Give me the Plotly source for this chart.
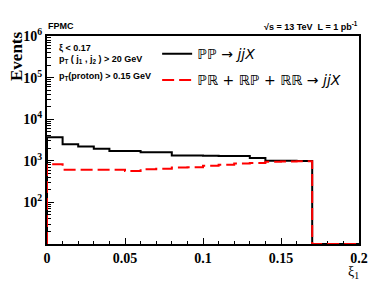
import plotly.graph_objects as go

# bin edges of xi_1 (width 0.01)
bin_edges = [0.00, 0.01, 0.02, 0.03, 0.04, 0.05, 0.06, 0.07, 0.08, 0.09, 0.10,
             0.11, 0.12, 0.13, 0.14, 0.15, 0.16, 0.17, 0.18, 0.19, 0.20]

# events per bin
pp_events = [3700, 2500, 2200, 1950, 1730, 1730, 1600, 1600, 1340, 1340,
             1320, 1310, 1300, 1170, 1000, 1000, 990, 0, 0, 0]
pr_events = [830, 610, 610, 610, 610, 570, 630, 640, 690, 700,
             760, 800, 860, 890, 950, 960, 970, 0, 0, 0]

pp_name = "ℙℙ → <i>jjX</i>"
pr_name = "ℙℝ + ℝℙ + ℝℝ → <i>jjX</i>"

x_tickvals = [0, 0.05, 0.1, 0.15, 0.2]
x_ticktext = ["0", "0.05", "0.1", "0.15", "0.2"]
y_tickvals = [1e2, 1e3, 1e4, 1e5, 1e6]
y_ticktext = ["10<sup>2</sup>", "10<sup>3</sup>", "10<sup>4</sup>", "10<sup>5</sup>", "10<sup>6</sup>"]

YMIN, YMAX = 10, 1e6
W, H = 390, 281
ML, MR, MT, MB = 39, 39, 28, 45


def step_xy(edges, vals):
    xs = [edges[0]] + list(edges[:-1]) + [edges[-1]]
    ys = [YMIN] + [v if v > 0 else YMIN for v in vals] + [vals[-1] if vals[-1] > 0 else YMIN]
    return xs, ys


fig = go.Figure()
x1, y1 = step_xy(bin_edges, pp_events)
fig.add_trace(go.Scatter(x=x1, y=y1, mode="lines", line_shape="hv", name=pp_name,
                         line=dict(color="black", width=2), legendgroup="a"))
x2, y2 = step_xy(bin_edges, pr_events)
fig.add_trace(go.Scatter(x=x2, y=y2, mode="lines", line_shape="hv", name=pr_name,
                         line=dict(color="#ff0000", width=2, dash="12px,5px"), legendgroup="b"))

serif = "Liberation Serif, Times New Roman, serif"
sans = "Liberation Sans, Arial, sans-serif"

fig.update_layout(
    width=W, height=H,
    margin=dict(l=ML, r=MR, t=MT, b=MB, pad=0, autoexpand=False),
    paper_bgcolor="white", plot_bgcolor="white",
    showlegend=True,
    legend=dict(x=0.353, y=0.99, xanchor="left", yanchor="top",
                font=dict(family="DejaVu Sans", size=14, color="black"),
                bgcolor="rgba(0,0,0,0)", tracegroupgap=5, itemwidth=30),
    xaxis=dict(range=[0, 0.2], tickvals=x_tickvals, ticktext=x_ticktext,
               ticks="inside", ticklen=6, tickwidth=1, tickcolor="black",
               minor=dict(dtick=0.01, tick0=0, ticks="inside", ticklen=3, tickcolor="black"),
               showline=True, linecolor="black", linewidth=2, mirror=True,
               showgrid=False, zeroline=False, layer="below traces", automargin=False,
               tickfont=dict(family=serif, size=14, color="black", weight="bold")),
    yaxis=dict(type="log", range=[1, 6], tickvals=y_tickvals, ticktext=y_ticktext,
               ticks="inside", ticklen=7, tickwidth=1, tickcolor="black",
               minor=dict(ticks="inside", ticklen=4, tickcolor="black", dtick="D1"),
               showline=True, linecolor="black", linewidth=2, mirror=True,
               showgrid=False, zeroline=False, layer="below traces", automargin=False,
               tickfont=dict(family=serif, size=14, color="black", weight="bold")),
)

anns = [
    dict(text="<b>FPMC</b>", x=ML - 1, y=MT - 3, xanchor="left", yanchor="bottom",
         font=dict(family=sans, size=9)),
    dict(text="<b>√s = 13 TeV  L = 1 pb<sup>-1</sup></b>", x=W - MR + 1, y=MT - 2,
         xanchor="right", yanchor="bottom", font=dict(family=sans, size=9)),
    dict(text="<b>ξ < 0.17</b>", x=49, y=40, xanchor="left", yanchor="middle",
         font=dict(family=sans, size=9)),
    dict(text="<b>p<sub>T</sub> ( j<sub>1</sub> , j<sub>2</sub> ) > 20 GeV</b>", x=49, y=51,
         xanchor="left", yanchor="middle", font=dict(family=sans, size=9)),
    dict(text="<b>p<sub>T</sub>(proton) > 0.15 GeV</b>", x=49, y=68,
         xanchor="left", yanchor="middle", font=dict(family=sans, size=9)),
    dict(text="<b>Events</b>", x=8, y=48, xanchor="center", yanchor="middle",
         textangle=-90, font=dict(family=serif, size=17)),
    dict(text="ξ<sub>1</sub>", x=345, y=264, xanchor="center", yanchor="middle",
         font=dict(family=serif, size=14), borderpad=0),
]
for a in anns:
    a.update(xref="paper", yref="paper", showarrow=False)
    a["x"] = (a["x"] - ML) / (W - ML - MR)
    a["y"] = (H - MB - a["y"]) / (H - MT - MB)
    a["font"]["color"] = "black"
    fig.add_annotation(**a)

fig.write_html("out.html")
